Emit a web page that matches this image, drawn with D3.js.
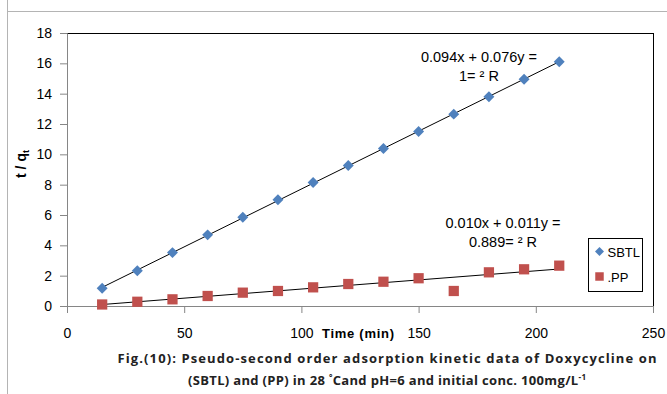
<!DOCTYPE html>
<html>
<head>
<meta charset="utf-8">
<script src="https://cdn.jsdelivr.net/npm/d3@7"></script>
<style>
  body { margin: 0; background: #fff; }
  svg { display: block; font-family: "Liberation Sans", Arial, sans-serif; }
</style>
</head>
<body>
<div id="chart"></div>
<script>
// data
const TIMES = [15, 30, 45, 60, 75, 90, 105, 120, 135, 150, 165, 180, 195, 210];
const SBTL = [1.17, 2.33, 3.52, 4.69, 5.85, 7.0, 8.14, 9.26, 10.38, 11.5, 12.65, 13.8, 14.95, 16.1];
const PP = [0.1, 0.28, 0.44, 0.66, 0.88, 0.99, 1.23, 1.45, 1.6, 1.83, 0.99, 2.22, 2.42, 2.66];

const X_TICKS = [0, 50, 100, 150, 200, 250];
const Y_TICKS = [0, 2, 4, 6, 8, 10, 12, 14, 16, 18];

const SERIES_NAMES = ["SBTL", ".PP"];
const EQ_SBTL = ["0.094x + 0.076y =", "1= \u00B2 R"];
const EQ_PP = ["0.010x + 0.011y =", "0.889= \u00B2 R"];

const CAPTION_1 = "Fig.(10): Pseudo-second order adsorption kinetic data of Doxycycline on";

//dimensions
const W = 667, H = 394;
const MARGIN = { top: 33, left: 67 };
const WIDTH = 586;
const HEIGHT = 273;

const BLUE = "#4F81BD";
const RED = "#C0504D";

const svg = d3.select("#chart").append("svg")
    .attr("width", W)
    .attr("height", H);

// outer frame (grey, left + top only visible)
svg.append("line").attr("x1", 7.5).attr("x2", 7.5).attr("y1", 0).attr("y2", H)
    .attr("stroke", "#b4b4b4");
svg.append("line").attr("x1", 7).attr("x2", W).attr("y1", 11.5).attr("y2", 11.5)
    .attr("stroke", "#b4b4b4");

const g = svg.append("g")
    .attr("transform", `translate(${MARGIN.left},${MARGIN.top})`);

const x = d3.scaleLinear().domain([0, 250]).range([0, WIDTH]);
const y = d3.scaleLinear().domain([0, 18]).range([HEIGHT, 0]);

// plot area border
g.append("rect")
    .attr("x", 0.5).attr("y", 0.5)
    .attr("width", WIDTH).attr("height", HEIGHT)
    .attr("fill", "none")
    .attr("stroke", "#000");

// axes
const xAxis = g.append("g")
    .attr("transform", `translate(0,${HEIGHT})`)
    .call(d3.axisBottom(x).tickValues(X_TICKS).tickSize(7).tickPadding(15).tickFormat(d3.format("d")));
const yAxis = g.append("g")
    .call(d3.axisLeft(y).tickValues(Y_TICKS).tickSize(7).tickPadding(8).tickFormat(d3.format("d")));

[xAxis, yAxis].forEach(a => {
    a.select(".domain").attr("stroke", "#868686");
    a.selectAll(".tick line").attr("stroke", "#868686");
    a.selectAll(".tick text")
        .attr("fill", "#000")
        .style("font-size", "14px")
        .style("font-family", "'Liberation Sans', Arial, sans-serif");
});

// axis titles
g.append("text")
    .attr("x", 291)
    .attr("y", HEIGHT + 32)
    .attr("text-anchor", "middle")
    .attr("font-weight", "bold")
    .attr("font-size", "13px")
    .attr("textLength", 72)
    .text("Time (min)");

const yTitle = svg.append("text")
    .attr("transform", "translate(26,164) rotate(-90)")
    .attr("text-anchor", "middle")
    .attr("font-weight", "bold")
    .attr("font-size", "14px");
yTitle.append("tspan").text("t / q");
yTitle.append("tspan").attr("font-size", "9px").attr("dy", 3).text("t");

// trend lines (least squares)
function fit(xs, ys) {
    const mx = d3.mean(xs), my = d3.mean(ys);
    const sxy = d3.sum(xs, (v, i) => (v - mx) * (ys[i] - my));
    const sxx = d3.sum(xs, v => (v - mx) * (v - mx));
    const slope = sxy / sxx;
    return { slope, icpt: my - slope * mx };
}

const line = d3.line().x(d => x(d[0])).y(d => y(d[1]));
[SBTL, PP].forEach(vals => {
    const f = fit(TIMES, vals);
    const ends = d3.extent(TIMES).map(t => [t, f.icpt + f.slope * t]);
    g.append("path")
        .attr("d", line(ends))
        .attr("fill", "none")
        .attr("stroke", "#000")
        .attr("stroke-width", 1);
});

// markers
const diamond = d3.symbol().type(d3.symbolSquare).size(60);
const square = d3.symbol().type(d3.symbolSquare).size(105);

g.selectAll(".sbtl")
    .data(TIMES.map((t, i) => [t, SBTL[i]]))
    .enter().append("path")
    .attr("class", "sbtl")
    .attr("d", diamond)
    .attr("transform", d => `translate(${x(d[0])},${y(d[1])}) rotate(45)`)
    .attr("fill", BLUE);

g.selectAll(".pp")
    .data(TIMES.map((t, i) => [t, PP[i]]))
    .enter().append("path")
    .attr("class", "pp")
    .attr("d", square)
    .attr("transform", d => `translate(${x(d[0])},${y(d[1])})`)
    .attr("fill", RED);

// trend line equations
function eqLabel(lines, cx, cy) {
    g.selectAll(null)
        .data(lines)
        .enter().append("text")
        .attr("x", cx)
        .attr("y", (d, i) => cy + i * 19)
        .attr("text-anchor", "middle")
        .attr("font-size", "14.5px")
        .attr("fill", "#000")
        .text(d => d);
}
eqLabel(EQ_SBTL, 479 - MARGIN.left, 62 - MARGIN.top);
eqLabel(EQ_PP, 503 - MARGIN.left, 228 - MARGIN.top);

// legend
const legend = svg.append("g").attr("transform", "translate(588.5,238.5)");
legend.append("rect")
    .attr("width", 54).attr("height", 53)
    .attr("fill", "#fff").attr("stroke", "#000");
const items = legend.selectAll(".item")
    .data(SERIES_NAMES)
    .enter().append("g")
    .attr("transform", (d, i) => `translate(11,${13 + i * 25})`);
items.append("path")
    .attr("d", (d, i) => i === 0 ? d3.symbol().type(d3.symbolSquare).size(40)() : d3.symbol().type(d3.symbolSquare).size(72)())
    .attr("transform", (d, i) => i === 0 ? "rotate(45)" : null)
    .attr("fill", (d, i) => i === 0 ? BLUE : RED);
items.append("text")
    .attr("x", 8)
    .attr("y", 5)
    .attr("font-size", "13px")
    .text(d => d);

// caption
svg.append("text")
    .attr("x", 387).attr("y", 363)
    .attr("text-anchor", "middle")
    .attr("font-family", "'Open Sans', sans-serif")
    .attr("font-weight", "bold")
    .attr("font-size", "13px")
    .attr("fill", "#222")
    .attr("textLength", 539)
    .text(CAPTION_1);

const cap2 = svg.append("text")
    .attr("x", 387).attr("y", 385)
    .attr("text-anchor", "middle")
    .attr("font-family", "'Open Sans', sans-serif")
    .attr("font-weight", "bold")
    .attr("font-size", "13px")
    .attr("fill", "#222")
    .attr("textLength", 398);
cap2.append("tspan").text("(SBTL) and (PP) in 28 ");
cap2.append("tspan").attr("font-size", "8px").attr("dy", -5).text("\u00B0");
cap2.append("tspan").attr("dy", 5).text("Cand pH=6 and initial conc. 100mg/L");
cap2.append("tspan").attr("font-size", "8px").attr("dy", -5).text("-1");
</script>
</body>
</html>
